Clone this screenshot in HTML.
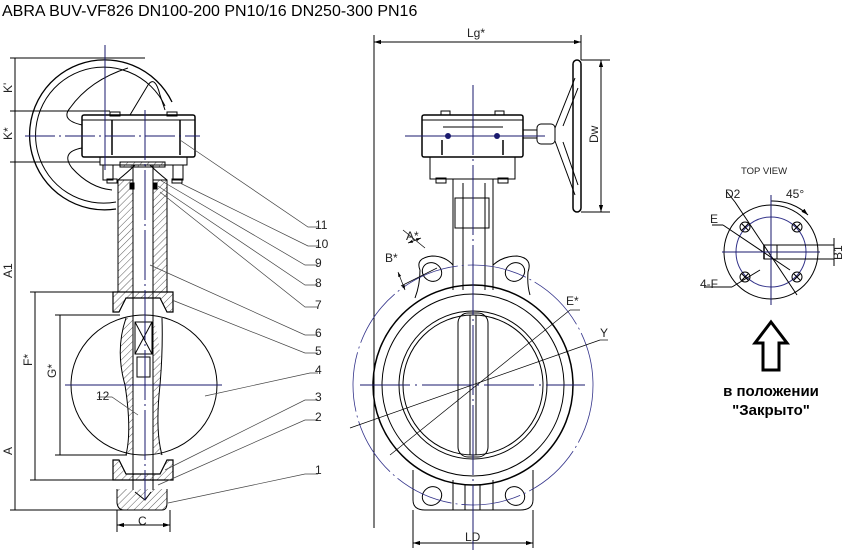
<!DOCTYPE html>
<html><head><meta charset="utf-8"><style>
html,body{margin:0;padding:0;background:#fff;width:848px;height:555px;overflow:hidden}
svg{display:block}
text{font-family:"Liberation Sans",sans-serif}
</style></head><body>
<svg width="848" height="555" viewBox="0 0 848 555" xmlns="http://www.w3.org/2000/svg">
<defs>
<pattern id="h" width="5" height="5" patternUnits="userSpaceOnUse" patternTransform="rotate(45)"><line x1="0" y1="0" x2="0" y2="5" stroke="#333" stroke-width="0.8"/></pattern>
<marker id="a" viewBox="0 0 10 10" refX="10" refY="5" markerWidth="7" markerHeight="7" orient="auto-start-reverse"><path d="M0,2 L10,5 L0,8 z" fill="#000"/></marker>
</defs>
<text x="2" y="16" font-size="16" fill="#000">ABRA BUV-VF826 DN100-200 PN10/16 DN250-300 PN16</text>

<g fill="none" stroke="#000" stroke-width="1">
<!-- LEFT VIEW -->
<path d="M172,102 A75,75 0 1 0 116,209" stroke-width="1.3"/>
<path d="M165,106 A68,68 0 1 0 116,202"/>
<path d="M128,68 Q90,80 70,108 Q60,120 82,125" />
<path d="M82,148 Q60,152 72,168 Q90,188 112,190"/>
<path d="M130,115 L148,85 Q155,75 160,95 L165,110"/>
<rect x="82" y="115" width="113" height="42" rx="2" stroke-width="1.5"/>
<line x1="82" y1="120" x2="195" y2="120"/>
<line x1="112" y1="120" x2="112" y2="155" stroke-width="1.5"/>
<line x1="180" y1="120" x2="180" y2="155" stroke-width="1.5"/>
<rect x="100" y="157" width="87" height="8"/>
<rect x="103" y="165" width="10" height="15"/><rect x="173" y="165" width="10" height="15"/>
<rect x="107" y="179" width="10" height="4"/><rect x="172" y="179" width="10" height="4"/>
<rect x="110" y="112" width="10" height="4"/><rect x="167" y="112" width="10" height="4"/>
<path d="M118,180 L118,292 M167,180 L167,292 M118,180 Q128,172 135,165 M167,180 Q157,172 150,165"/>
<rect x="118" y="180" width="15" height="112" fill="url(#h)"/>
<rect x="153" y="180" width="14" height="112" fill="url(#h)"/>
<rect x="120" y="162" width="45" height="5" fill="url(#h)"/>
<line x1="133" y1="165" x2="133" y2="490"/>
<line x1="153" y1="165" x2="153" y2="490"/>
<rect x="130" y="183" width="4" height="6" fill="#000"/><rect x="153" y="183" width="4" height="6" fill="#000"/>
<path d="M113,292 L173,292 L173,312 L167,312 L160,298 L126,298 L119,312 L113,312 Z" fill="url(#h)" stroke-width="1.2"/>
<path d="M113,480 L173,480 L173,460 L167,460 L160,474 L126,474 L119,460 L113,460 Z" fill="url(#h)" stroke-width="1.2"/>
<ellipse cx="144" cy="385" rx="73" ry="70"/>
<path d="M126,318 Q115,350 125,385 Q132,430 126,455 L133,455 L133,318 Z" fill="url(#h)" stroke="none"/>
<path d="M153,318 Q163,350 160,385 Q155,430 162,455 L153,455 Z" fill="url(#h)" stroke="none"/>
<path d="M126,318 Q115,350 125,385 Q132,430 126,455"/>
<path d="M162,318 Q163,350 160,385 Q155,430 162,455"/>
<rect x="135" y="322" width="17" height="32"/>
<line x1="135" y1="322" x2="152" y2="354"/><line x1="152" y1="322" x2="135" y2="354"/>
<rect x="137" y="357" width="13" height="20"/>
<path d="M117,489 L117,503 Q118,510 124,510 L162,510 Q167,510 167,503 L167,489" fill="url(#h)"/>
<path d="M135,492 L145,500 L151,492"/>
<line x1="15" y1="58" x2="15" y2="510"/>
<line x1="10" y1="58" x2="145" y2="58"/>
<line x1="10" y1="111" x2="110" y2="111"/>
<line x1="10" y1="162" x2="100" y2="162"/>
<line x1="10" y1="510" x2="125" y2="510"/>
<line x1="35" y1="292" x2="35" y2="480"/>
<line x1="30" y1="292" x2="113" y2="292"/><line x1="30" y1="480" x2="113" y2="480"/>
<line x1="60" y1="315" x2="60" y2="455"/>
<line x1="55" y1="315" x2="120" y2="315"/><line x1="55" y1="455" x2="127" y2="455"/>
<line x1="117" y1="510" x2="117" y2="532"/><line x1="170" y1="510" x2="170" y2="532"/>
<line x1="117" y1="525" x2="170" y2="525" marker-start="url(#a)" marker-end="url(#a)"/>
<g stroke-width="0.7" stroke="#444">
<path d="M180,140 L308,227 L318,227"/>
<path d="M180,183 L308,246 L318,246"/>
<path d="M160,180 L305,265 L318,265"/>
<path d="M158,186 L305,285 L318,285"/>
<path d="M160,192 L305,307 L318,307"/>
<path d="M150,265 L305,335 L318,335"/>
<path d="M172,300 L305,353 L318,353"/>
<path d="M205,396 L310,373 L318,373"/>
<path d="M165,470 L305,400 L318,400"/>
<path d="M158,485 L305,420 L318,420"/>
<path d="M168,503 L305,474 L318,474"/>
<path d="M98,397 L112,397 L138,415"/>
</g>

<!-- MIDDLE VIEW -->
<line x1="374" y1="35" x2="374" y2="528"/>
<line x1="374" y1="42" x2="581" y2="42" marker-start="url(#a)" marker-end="url(#a)"/>
<line x1="581" y1="35" x2="581" y2="60"/>
<rect x="422" y="115" width="101" height="42" rx="2" stroke-width="1.5"/>
<line x1="422" y1="120" x2="523" y2="120"/>
<line x1="443" y1="127" x2="503" y2="127"/>
<line x1="442" y1="140" x2="442" y2="155" stroke-width="1.5"/><line x1="503" y1="140" x2="503" y2="155" stroke-width="1.5"/>
<rect x="430" y="157" width="85" height="22"/>
<rect x="436" y="178" width="10" height="5"/><rect x="498" y="178" width="10" height="5"/>
<rect x="441" y="111" width="9" height="4"/><rect x="495" y="111" width="9" height="4"/>
<rect x="523" y="130" width="14" height="8"/>
<rect x="537" y="124" width="18" height="20" rx="4"/>
<path d="M555,128 L575,78 M555,141 L575,195 M563,126 L578,88 M563,142 L578,185"/>
<rect x="573" y="60" width="8" height="152" rx="4" stroke-width="1.5"/>
<line x1="581" y1="60" x2="610" y2="60"/><line x1="581" y1="212" x2="610" y2="212"/>
<line x1="601" y1="60" x2="601" y2="212" marker-start="url(#a)" marker-end="url(#a)"/>
<path d="M453,179 L453,290 M493,179 L493,290 M463,183 L463,290 M485,183 L485,290"/>
<rect x="455" y="198" width="34" height="30"/>
<path d="M420,270 Q415,258 432,256 Q445,256 453,265 M493,265 Q503,256 517,256 Q533,258 528,272 Q527,285 530,295"/>
<path d="M420,270 Q420,285 415,298"/>
<ellipse cx="432" cy="272" rx="10" ry="9" transform="rotate(35 432 272)"/>
<ellipse cx="515" cy="272" rx="10" ry="9" transform="rotate(-35 515 272)"/>
<path d="M413,470 L413,500 Q413,510 425,510 L520,510 Q533,510 533,500 L533,470"/>
<ellipse cx="432" cy="496" rx="10" ry="9" transform="rotate(-35 432 496)"/>
<ellipse cx="515" cy="496" rx="10" ry="9" transform="rotate(35 515 496)"/>
<path d="M453,480 L453,510 M465,485 L465,510 M480,485 L480,510 M493,480 L493,510"/>
<circle cx="473" cy="385" r="100" stroke-width="1.5"/>
<circle cx="473" cy="385" r="91"/>
<circle cx="473" cy="385" r="74"/>
<circle cx="473" cy="385" r="70"/>
<rect x="458" y="313" width="30" height="144" rx="10"/>
<line x1="470" y1="315" x2="470" y2="455"/><line x1="476" y1="315" x2="476" y2="455"/>
<circle cx="473" cy="385" r="120" stroke="#33338a" stroke-width="0.8" stroke-dasharray="60 4 2 4"/>
<line x1="413" y1="510" x2="413" y2="548"/><line x1="533" y1="510" x2="533" y2="548"/>
<line x1="413" y1="543" x2="533" y2="543" marker-start="url(#a)" marker-end="url(#a)"/>
<line x1="390" y1="455" x2="570" y2="310" stroke-width="0.7"/>
<line x1="570" y1="310" x2="580" y2="310" stroke-width="0.7"/>
<line x1="350" y1="428" x2="600" y2="340" stroke-width="0.7"/>
<line x1="600" y1="340" x2="608" y2="340" stroke-width="0.7"/>
<line x1="401" y1="286" x2="437" y2="268" stroke-width="0.7"/>
<line x1="398" y1="272" x2="405" y2="290" stroke-width="0.7" marker-start="url(#a)" marker-end="url(#a)"/>
<line x1="403" y1="230" x2="425" y2="248" stroke-width="0.7"/>
<line x1="408" y1="243" x2="421" y2="238" stroke-width="0.7" marker-start="url(#a)" marker-end="url(#a)"/>

<!-- TOP VIEW -->
<circle cx="771" cy="252" r="47"/>
<circle cx="771" cy="252" r="35" stroke="#33338a"/>
<g stroke="#000"><circle cx="745" cy="227" r="5"/><circle cx="797" cy="227" r="5"/><circle cx="745" cy="277" r="5"/><circle cx="797" cy="277" r="5"/>
<path d="M742,224l6,6m0,-6l-6,6 M794,224l6,6m0,-6l-6,6 M742,274l6,6m0,-6l-6,6 M794,274l6,6m0,-6l-6,6"/></g>
<rect x="764" y="245" width="70" height="14"/>
<line x1="764" y1="245" x2="764" y2="259" stroke-width="1.5"/><line x1="777" y1="245" x2="777" y2="259"/>
<line x1="735" y1="202" x2="797" y2="295"/>
<line x1="723" y1="225" x2="790" y2="270"/>
<line x1="712" y1="225" x2="723" y2="225"/>
<line x1="705" y1="287" x2="732" y2="287"/>
<line x1="732" y1="287" x2="760" y2="270"/>
<line x1="727" y1="192" x2="735" y2="202"/>
<path d="M771,201 A51,51 0 0 1 808,215" marker-end="url(#a)"/>
<line x1="834" y1="238" x2="834" y2="266"/>
</g>
<g stroke="#1a1a6e" stroke-width="1" fill="none">
<line x1="105" y1="45" x2="105" y2="170"/>
<line x1="25" y1="136" x2="200" y2="136" stroke-dasharray="30 4 2 4"/>
<line x1="145" y1="110" x2="145" y2="500" stroke-dasharray="50 4 2 4"/>
<line x1="65" y1="385" x2="222" y2="385"/>
<line x1="473" y1="85" x2="473" y2="550" stroke-dasharray="70 4 2 4"/>
<line x1="405" y1="136" x2="545" y2="136"/>
<line x1="360" y1="385" x2="585" y2="385" stroke-dasharray="50 5 2 5"/>
<line x1="771" y1="195" x2="771" y2="305"/>
<line x1="722" y1="252" x2="820" y2="252"/>
</g>
<g fill="#1a1a6e"><circle cx="448" cy="136" r="3"/><circle cx="497" cy="136" r="3"/></g>

<g font-size="12" fill="#222">
<text transform="translate(12,93) rotate(-90)">K'</text>
<text transform="translate(12,140) rotate(-90)">K*</text>
<text transform="translate(12,278) rotate(-90)">A1</text>
<text transform="translate(12,455) rotate(-90)">A</text>
<text transform="translate(32,366) rotate(-90)">F*</text>
<text transform="translate(56,378) rotate(-90)">G*</text>
<text x="138" y="525">C</text>
<text x="96" y="400">12</text>
<text x="315" y="229">11</text><text x="315" y="248">10</text>
<text x="315" y="267">9</text><text x="315" y="287">8</text>
<text x="315" y="309">7</text><text x="315" y="337">6</text>
<text x="315" y="355">5</text><text x="315" y="374">4</text>
<text x="315" y="401">3</text><text x="315" y="421">2</text>
<text x="315" y="474">1</text>
<text x="467" y="37">Lg*</text>
<text transform="translate(598,143) rotate(-90)">Dw</text>
<text x="465" y="541">LD</text>
<text x="566" y="305">E*</text>
<text x="600" y="337">Y</text>
<text x="385" y="262">B*</text>
<text x="406" y="240">A*</text>
<text x="741" y="174" font-size="9.5">TOP VIEW</text>
<text x="725" y="198">D2</text>
<text x="710" y="223">E</text>
<text x="700" y="288">4-F</text>
<text x="786" y="198">45°</text>
<text transform="translate(842,260) rotate(-90)">B1</text>
</g>
<path d="M771,322 L787,343 L779,343 L779,370 L763,370 L763,343 L755,343 Z" fill="none" stroke="#000" stroke-width="3" stroke-linejoin="miter"/>
<text x="771" y="396" text-anchor="middle" font-size="15" font-weight="bold">в положении</text>
<text x="771" y="415" text-anchor="middle" font-size="15" font-weight="bold">"Закрыто"</text>
</svg>
</body></html>
